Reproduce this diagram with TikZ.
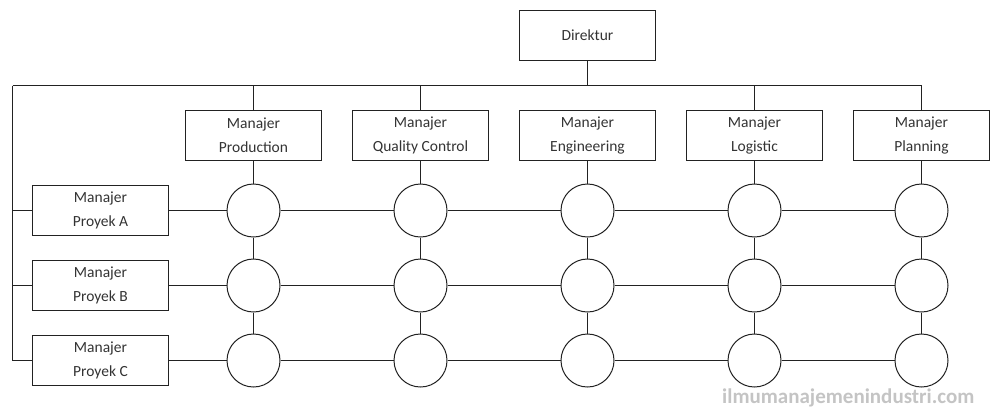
\documentclass[tikz,border=0pt]{standalone}
\usepackage{fontspec}
\setmainfont{Carlito}
\usetikzlibrary{positioning}
\definecolor{garisGelap}{HTML}{222222}
\definecolor{teksGelap}{HTML}{333333}
\definecolor{abuSitus}{HTML}{C4C4C4}

\begin{document}
\begin{tikzpicture}[x=1pt, y=-1pt,
        kotak/.style={draw=garisGelap, line width=1pt, minimum width=136pt, minimum height=50pt,
            inner sep=0pt, align=center, text=teksGelap, font=\fontsize{15.5}{24}\selectfont},
        titik/.style={circle, draw=garisGelap, line width=1pt, minimum size=53pt, inner sep=0pt},
        garis/.style={garisGelap, line width=1pt}
    ]
        \useasboundingbox (0,0) rectangle (990,410);

        % manajer fungsional
        \node[kotak] (prod) at (253.5,135.5) {Manajer\\Production};
        \node[kotak, right=30pt of prod] (qc) {Manajer\\Quality Control};
        \node[kotak, right=30pt of qc] (eng) {Manajer\\Engineering};
        \node[kotak, right=30pt of eng] (log) {Manajer\\Logistic};
        \node[kotak, right=30pt of log] (plan) {Manajer\\Planning};
        \node[kotak, above=49pt of eng] (dir) {Direktur};

        % manajer proyek
        \node[kotak] (pa) at (100.5,210.5) {Manajer\\Proyek A};
        \node[kotak, below=24pt of pa] (pb) {Manajer\\Proyek B};
        \node[kotak, below=24pt of pb] (pc) {Manajer\\Proyek C};

        % titik matriks
        \node[titik] (a1) at (prod |- pa) {};
        \node[titik] (a2) at (qc |- pa) {};
        \node[titik] (a3) at (eng |- pa) {};
        \node[titik] (a4) at (log |- pa) {};
        \node[titik] (a5) at (plan |- pa) {};
        \node[titik] (b1) at (prod |- pb) {};
        \node[titik] (b2) at (qc |- pb) {};
        \node[titik] (b3) at (eng |- pb) {};
        \node[titik] (b4) at (log |- pb) {};
        \node[titik] (b5) at (plan |- pb) {};
        \node[titik] (c1) at (prod |- pc) {};
        \node[titik] (c2) at (qc |- pc) {};
        \node[titik] (c3) at (eng |- pc) {};
        \node[titik] (c4) at (log |- pc) {};
        \node[titik] (c5) at (plan |- pc) {};

        % garis komando
        \coordinate (bus) at (12.5,85.5);
        \draw[garis] (dir) -- (dir |- bus);
        \draw[garis] (bus) -- (plan.north |- bus);
        \draw[garis] (prod.north |- bus) -- (prod);
        \draw[garis] (qc.north |- bus) -- (qc);
        \draw[garis] (log.north |- bus) -- (log);
        \draw[garis] (plan.north |- bus) -- (plan);
        \draw[garis] (bus) -- (bus |- pc) -- (pc);
        \draw[garis] (bus |- pa) -- (pa);
        \draw[garis] (bus |- pb) -- (pb);

        \draw[garis] (pa) -- (a1) -- (a2) -- (a3) -- (a4) -- (a5);
        \draw[garis] (pb) -- (b1) -- (b2) -- (b3) -- (b4) -- (b5);
        \draw[garis] (pc) -- (c1) -- (c2) -- (c3) -- (c4) -- (c5);
        \draw[garis] (prod) -- (a1) -- (b1) -- (c1);
        \draw[garis] (qc) -- (a2) -- (b2) -- (c2);
        \draw[garis] (eng) -- (a3) -- (b3) -- (c3);
        \draw[garis] (log) -- (a4) -- (b4) -- (c4);
        \draw[garis] (plan) -- (a5) -- (b5) -- (c5);

        \node[anchor=east, text=abuSitus, font=\bfseries\fontsize{21}{21}\selectfont] (situs) at (978,398) {ilmumanajemenindustri.com};
    \end{tikzpicture}
\end{document}
